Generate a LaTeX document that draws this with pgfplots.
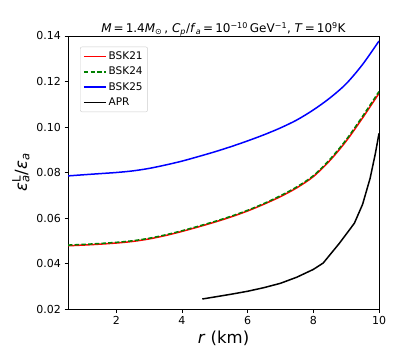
\documentclass[border=0pt]{standalone}
\usepackage{fontspec}
\setmainfont{DejaVu Sans}
\usepackage{pgfplots}
\pgfplotsset{compat=1.18}

\definecolor{mplgreen}{RGB}{0,128,0}

\pgfplotstableread{
r      y
0.53   0.0478
1.0    0.0481
1.5    0.0485
2.0    0.0490
2.5    0.0497
3.0    0.0508
3.5    0.0523
4.0    0.0541
4.5    0.0561
5.0    0.0582
5.5    0.0605
6.0    0.0631
6.5    0.0661
7.0    0.0694
7.5    0.0733
8.0    0.0782
8.5    0.0852
9.0    0.0938
9.5    0.1040
10.0   0.1148
}\bskone

\pgfplotstableread{
r      y
0.53   0.0481
1.0    0.0484
1.5    0.0488
2.0    0.0493
2.5    0.0500
3.0    0.0511
3.5    0.0526
4.0    0.0544
4.5    0.0564
5.0    0.0585
5.5    0.0608
6.0    0.0634
6.5    0.0664
7.0    0.0698
7.5    0.0737
8.0    0.0786
8.5    0.0857
9.0    0.0944
9.5    0.1047
10.0   0.1156
}\bsktwo

\pgfplotstableread{
r      y
0.53   0.0785
1.0    0.0790
1.5    0.0795
2.0    0.0800
2.5    0.0807
3.0    0.0818
3.5    0.0833
4.0    0.0850
4.5    0.0870
5.0    0.0891
5.5    0.0914
6.0    0.0939
6.5    0.0966
7.0    0.0996
7.5    0.1031
8.0    0.1075
8.5    0.1127
9.0    0.1190
9.5    0.1275
10.0   0.1378
}\bskthree

\pgfplotstableread{
r      y
4.62   0.0244
5.0    0.0253
5.5    0.0265
6.0    0.0278
6.5    0.0294
7.0    0.0313
7.5    0.0340
8.0    0.0374
8.3    0.0402
8.8    0.0490
9.25   0.0577
9.5    0.0660
9.73   0.0775
9.89   0.0884
10.0   0.0972
}\apr

\begin{document}
\begin{tikzpicture}
\begin{axis}[
    width=311pt, height=273pt,
    scale only axis,
    xmin=0.53, xmax=10,
    ymin=0.02, ymax=0.14,
    xtick={2,4,6,8,10},
    ytick={0.02,0.04,0.06,0.08,0.10,0.12,0.14},
    yticklabel style={/pgf/number format/.cd, fixed, fixed zerofill, precision=2},
    /pgf/number format/assume math mode=true,
    tick label style={font=\fontsize{11}{13}\selectfont},
    tick align=outside,
    major tick length=3.5pt,
    xtick pos=left, ytick pos=left,
    axis line style={line width=0.8pt},
    every tick/.style={black, line width=0.8pt},
    title={\textit{M}\,=\,1.4\textit{M}\textsubscript{⊙}\,, \textit{C}\textsubscript{\textit{p}}/\textit{f}\textsubscript{\textit{a}}\,=\,10\textsuperscript{−10}\,GeV\textsuperscript{−1}, \textit{T}\,=\,10\textsuperscript{9}K},
    title style={font=\fontsize{12}{14}\selectfont, yshift=-10pt},
    xlabel={\textit{r} (km)},
    ylabel={\textit{ε}\rlap{\textsuperscript{L}}\textsubscript{\textit{a}}/\textit{ε}\textsubscript{\textit{a}}},
    label style={font=\fontsize{16.5}{18}\selectfont},
    legend cell align=left,
    legend image code/.code={\draw[#1] (0pt,0pt) -- (22pt,0pt);},
    legend style={
        at={(0.0386,0.961)}, anchor=north west,
        draw=black!20, fill=white, rounded corners=2pt,
        font=\fontsize{10.5}{12}\selectfont,
        row sep=2pt, inner sep=3pt,
        /tikz/every even column/.append style={column sep=5pt},
    },
]
\addlegendimage{red, line width=1.5pt}
\addlegendentry{BSK21}
\addlegendimage{mplgreen, line width=1.5pt, dash pattern=on 4.5pt off 2.2pt}
\addlegendentry{BSK24}
\addlegendimage{blue, line width=1.5pt}
\addlegendentry{BSK25}
\addlegendimage{black, line width=1.5pt}
\addlegendentry{APR}
\addplot[red, line width=1.5pt, smooth, forget plot] table[x=r, y=y] {\bskone};
\addplot[mplgreen, line width=1.5pt, smooth, dash pattern=on 4.5pt off 2.2pt, forget plot] table[x=r, y=y] {\bsktwo};
\addplot[blue, line width=1.5pt, smooth, forget plot] table[x=r, y=y] {\bskthree};
\addplot[black, line width=1.5pt, forget plot] table[x=r, y=y] {\apr};
\end{axis}
\pgfresetboundingbox
\path ([shift={(-68pt,-54.3pt)}]current axis.south west) rectangle ([shift={(20pt,36pt)}]current axis.north east);
\end{tikzpicture}
\end{document}
